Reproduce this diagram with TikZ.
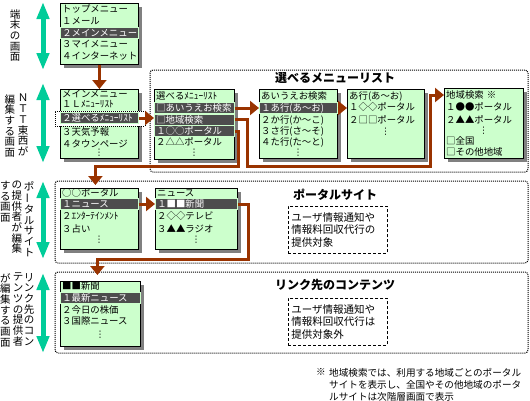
\documentclass[tikz,border=0pt]{standalone}
\usepackage{fontspec}
\newfontfamily\jp{Noto Sans CJK JP}
\newfontfamily\sym{DejaVu Sans}
\usetikzlibrary{arrows.meta,shadows}
\definecolor{menugreen}{RGB}{204,255,204}
\definecolor{hlgray}{RGB}{77,77,77}
\definecolor{linkbrown}{RGB}{153,51,0}
\definecolor{levelteal}{RGB}{0,204,153}
\definecolor{shadowgray}{RGB}{128,128,128}
\newcommand\vlong{\rotatebox[origin=c]{90}{ー}}
\newcommand\more{{\sym\fontsize{9}{11}\selectfont ⋮}}

\begin{document}
\begin{tikzpicture}[x=1pt,y=-1pt,
  font=\jp\fontsize{9.4}{11}\selectfont,
  menu/.style={draw,fill=menugreen,line width=0.8pt,anchor=north west,inner sep=0pt,
    drop shadow={shadow xshift=4pt,shadow yshift=-4pt,fill=shadowgray,opacity=1}},
  row/.style={anchor=west,inner xsep=2pt,inner ysep=0pt,minimum height=11pt,text width=#1,align=left},
  hl/.style={fill=hlgray,text=white,draw=menugreen,line width=0.5pt},
  pick/.style={draw,fill=white,line width=1pt,dash pattern=on 1pt off 1pt},
  region/.style={draw,line width=1pt,dash pattern=on 1pt off 1pt,rounded corners=3pt},
  note/.style={draw,dash pattern=on 3pt off 2pt,line width=0.8pt,anchor=north west,inner xsep=3pt,
    minimum height=47pt,text width=93pt,align=left,font=\jp\fontsize{10.5}{12.8}\selectfont},
  title/.style={font=\jp\bfseries\fontsize{12}{14}\selectfont},
  link/.style={draw=linkbrown,line width=3pt,-{Triangle[length=9pt,width=14pt]}},
  level/.style={draw=levelteal,line width=5pt,{Triangle[length=17pt,width=12pt]}-{Triangle[length=17pt,width=12pt]}},
  vtext/.style={anchor=north,align=center,inner sep=0pt,font=\jp\fontsize{10.5}{10.7}\selectfont}]
  \useasboundingbox (0,0) rectangle (530,400);

  % areas
  \draw[region] (150,70) rectangle (528,172);
  \draw[region] (55,181) rectangle (528,263);
  \draw[region] (55,272) rectangle (528,353);
  \node[title] (seltitle) at (335,78) {選べるメニューリスト};
  \node[title] (portaltitle) at (335,195) {ポータルサイト};
  \node[title] (linktitle) at (335,285) {リンク先のコンテンツ};

  % terminal screen
  \node[menu,minimum width=78pt,minimum height=61pt] (top) at (60,3) {};
  \node[row=74pt] (top0) at (60,9) {トップメニュー};
  \node[row=74pt] (top1) at (60,21) {１メール};
  \node[row=74pt,hl] (top2) at (60,33) {２メインメニュー};
  \node[row=74pt] (top3) at (60,44) {３マイメニュー};
  \node[row=74pt] (top4) at (60,56) {４インターネット};

  % main menu
  \node[menu,minimum width=78pt,minimum height=69pt] (main) at (60,89) {};
  \node[row=74pt] (main0) at (60,94) {メインメニュー};
  \node[row=74pt] (main1) at (60,104) {１Ｌﾒﾆｭｰﾘｽﾄ};
  \node[pick,minimum width=90pt,minimum height=15pt] (mainpick) at (100,118.5) {};
  \node[row=74pt,hl] (main2) at (60,118) {２選べるﾒﾆｭｰﾘｽﾄ};
  \node[row=74pt] (main3) at (60,132) {３天気予報};
  \node[row=74pt] (main4) at (60,144) {４タウンページ};
  \node[row=74pt,align=center] (main5) at (60,153) {\more};

  % selectable list
  \node[menu,minimum width=80pt,minimum height=70pt] (selA) at (154,89) {};
  \node[row=76pt] (selA0) at (154,96) {選べるﾒﾆｭｰﾘｽﾄ};
  \node[row=76pt,hl] (selA1) at (154,108) {□あいうえお検索};
  \node[row=76pt,hl] (selA2) at (154,119.5) {□地域検索};
  \node[row=76pt,hl] (selA3) at (154,131) {１○○ポータル};
  \node[row=76pt] (selA4) at (154,142) {２△△ポータル};
  \node[row=76pt,align=center] (selA5) at (154,153) {\more};

  \node[menu,minimum width=78pt,minimum height=69pt] (selB) at (259,89) {};
  \node[row=74pt] (selB0) at (259,96) {あいうえお検索};
  \node[row=74pt,hl] (selB1) at (259,108) {１あ行(あ〜お)};
  \node[row=74pt] (selB2) at (259,120) {２か行(か〜こ)};
  \node[row=74pt] (selB3) at (259,131) {３さ行(さ〜そ)};
  \node[row=74pt] (selB4) at (259,142) {４た行(た〜と)};
  \node[row=74pt,align=center] (selB5) at (259,153) {\more};

  \node[menu,minimum width=77pt,minimum height=69pt] (selC) at (347,89) {};
  \node[row=73pt] (selC0) at (347,96) {あ行(あ〜お)};
  \node[row=73pt] (selC1) at (347,107) {１◇◇ポータル};
  \node[row=73pt] (selC2) at (347,120) {２□□ポータル};
  \node[row=73pt,align=center] (selC3) at (347,132) {\more};

  \node[menu,minimum width=79pt,minimum height=70pt] (selD) at (444,88) {};
  \node[row=75pt] (selD0) at (444,95) {地域検索 ※};
  \node[row=75pt] (selD1) at (444,107) {１●●ポータル};
  \node[row=75pt] (selD2) at (444,120) {２▲▲ポータル};
  \node[row=75pt,align=center] (selD3) at (444,131) {\more};
  \node[row=75pt] (selD4) at (444,141) {□全国};
  \node[row=75pt] (selD5) at (444,152) {□その他地域};

  % portal site
  \node[menu,minimum width=78pt,minimum height=61pt] (portal) at (60,188) {};
  \node[row=74pt] (portal0) at (60,193) {○○ポータル};
  \node[row=74pt,hl] (portal1) at (60,204) {１ニュース};
  \node[row=74pt] (portal2) at (60,216) {２ｴﾝﾀｰﾃｲﾝﾒﾝﾄ};
  \node[row=74pt] (portal3) at (60,229) {３占い};
  \node[row=74pt,align=center] (portal4) at (60,240) {\more};

  \node[menu,minimum width=82pt,minimum height=61pt] (news) at (155,188) {};
  \node[row=78pt] (news0) at (155,193) {ニュース};
  \node[row=78pt,hl] (news1) at (155,204) {１■■新聞};
  \node[row=78pt] (news2) at (155,216) {２◇◇テレビ};
  \node[row=78pt] (news3) at (155,229) {３▲▲ラジオ};
  \node[row=78pt,align=center] (news4) at (155,240) {\more};

  \node[note] (portalnote) at (288,206) {ユーザ情報通知や\\情報料回収代行の\\提供対象};

  % linked contents
  \node[menu,minimum width=80pt,minimum height=65pt] (paper) at (60,281) {};
  \node[row=76pt] (paper0) at (60,286) {■■新聞};
  \node[row=76pt,hl] (paper1) at (60,298) {１最新ニュース};
  \node[row=76pt] (paper2) at (60,310) {２今日の株価};
  \node[row=76pt] (paper3) at (60,321) {３国際ニュース};
  \node[row=76pt,align=center] (paper4) at (60,335) {\more};

  \node[note] (linknote) at (288,298) {ユーザ情報通知や\\情報料回収代行は\\提供対象外};

  % links between menus
  \coordinate (aturn) at (247,166);
  \coordinate (dturn) at (430,166);
  \coordinate (pturn) at (238,166);
  \coordinate (nturn) at (248,259);
  \coordinate (portalin) at ([xshift=-4pt]portal.north);
  \coordinate (paperin) at ([xshift=-3pt]paper.north);
  \draw[link] (top.south) -- (main.north);
  \draw[link] (main2.east) -- (main2.east -| selA.west);
  \draw[link] (selA1.east) -- (selA1.east -| selB.west);
  \draw[link] (selB1.east) -- (selB1.east -| selC.west);
  \draw[link] (selA2.east) -| (aturn) -- (dturn) |- (selD0.west);
  \draw[link,shorten >=3pt] (selA3.east) -| (pturn) -| (portalin);
  \draw[link] (portal1.east) -- (portal1.east -| news.west);
  \draw[link,shorten >=6pt] (news1.east) -| (nturn) -| (paperin);

  % who edits
  \coordinate (lv1a) at (43,2);   \coordinate (lv1b) at (43,70);
  \coordinate (lv2a) at (43,83);  \coordinate (lv2b) at (43,163);
  \coordinate (lv3a) at (43,181); \coordinate (lv3b) at (43,259);
  \coordinate (lv4a) at (43,273); \coordinate (lv4b) at (43,353);
  \draw[level] (lv1a) -- (lv1b);
  \draw[level] (lv2a) -- (lv2b);
  \draw[level] (lv3a) -- (lv3b);
  \draw[level] (lv4a) -- (lv4b);
  \node[vtext] (termlbl) at (15,9) {端\\末\\の\\画\\面};
  \node[vtext] (nttlbl) at (23,94) {Ｎ\\Ｔ\\Ｔ\\東\\西\\が};
  \node[vtext] (nttlbl2) at (10,94) {編\\集\\す\\る\\画\\面};
  \node[vtext] (portallbl) at (29,181) {ポ\\\vlong\\タ\\ル\\サ\\イ\\ト};
  \node[vtext] (portallbl2) at (17,181) {の\\提\\供\\者\\が\\編\\集};
  \node[vtext] (portallbl3) at (5.5,181) {す\\る\\画\\面};
  \node[vtext] (linklbl) at (29,273) {リ\\ン\\ク\\先\\の\\コ\\ン};
  \node[vtext] (linklbl2) at (18,273) {テ\\ン\\ツ\\の\\提\\供\\者};
  \node[vtext] (linklbl3) at (5.5,273) {が\\編\\集\\す\\る\\画\\面};

  % footnote
  \node[anchor=north west,inner sep=0pt,font=\jp\fontsize{9.6}{12}\selectfont] (footmark) at (316,368) {※};
  \node[anchor=north west,inner sep=0pt,align=left,font=\jp\fontsize{9.6}{12}\selectfont] (foottext) at (329,368)
    {地域検索では、利用する地域ごとのポータル\\サイトを表示し、全国やその他地域のポータ\\ルサイトは次階層画面で表示};
\end{tikzpicture}
\end{document}
